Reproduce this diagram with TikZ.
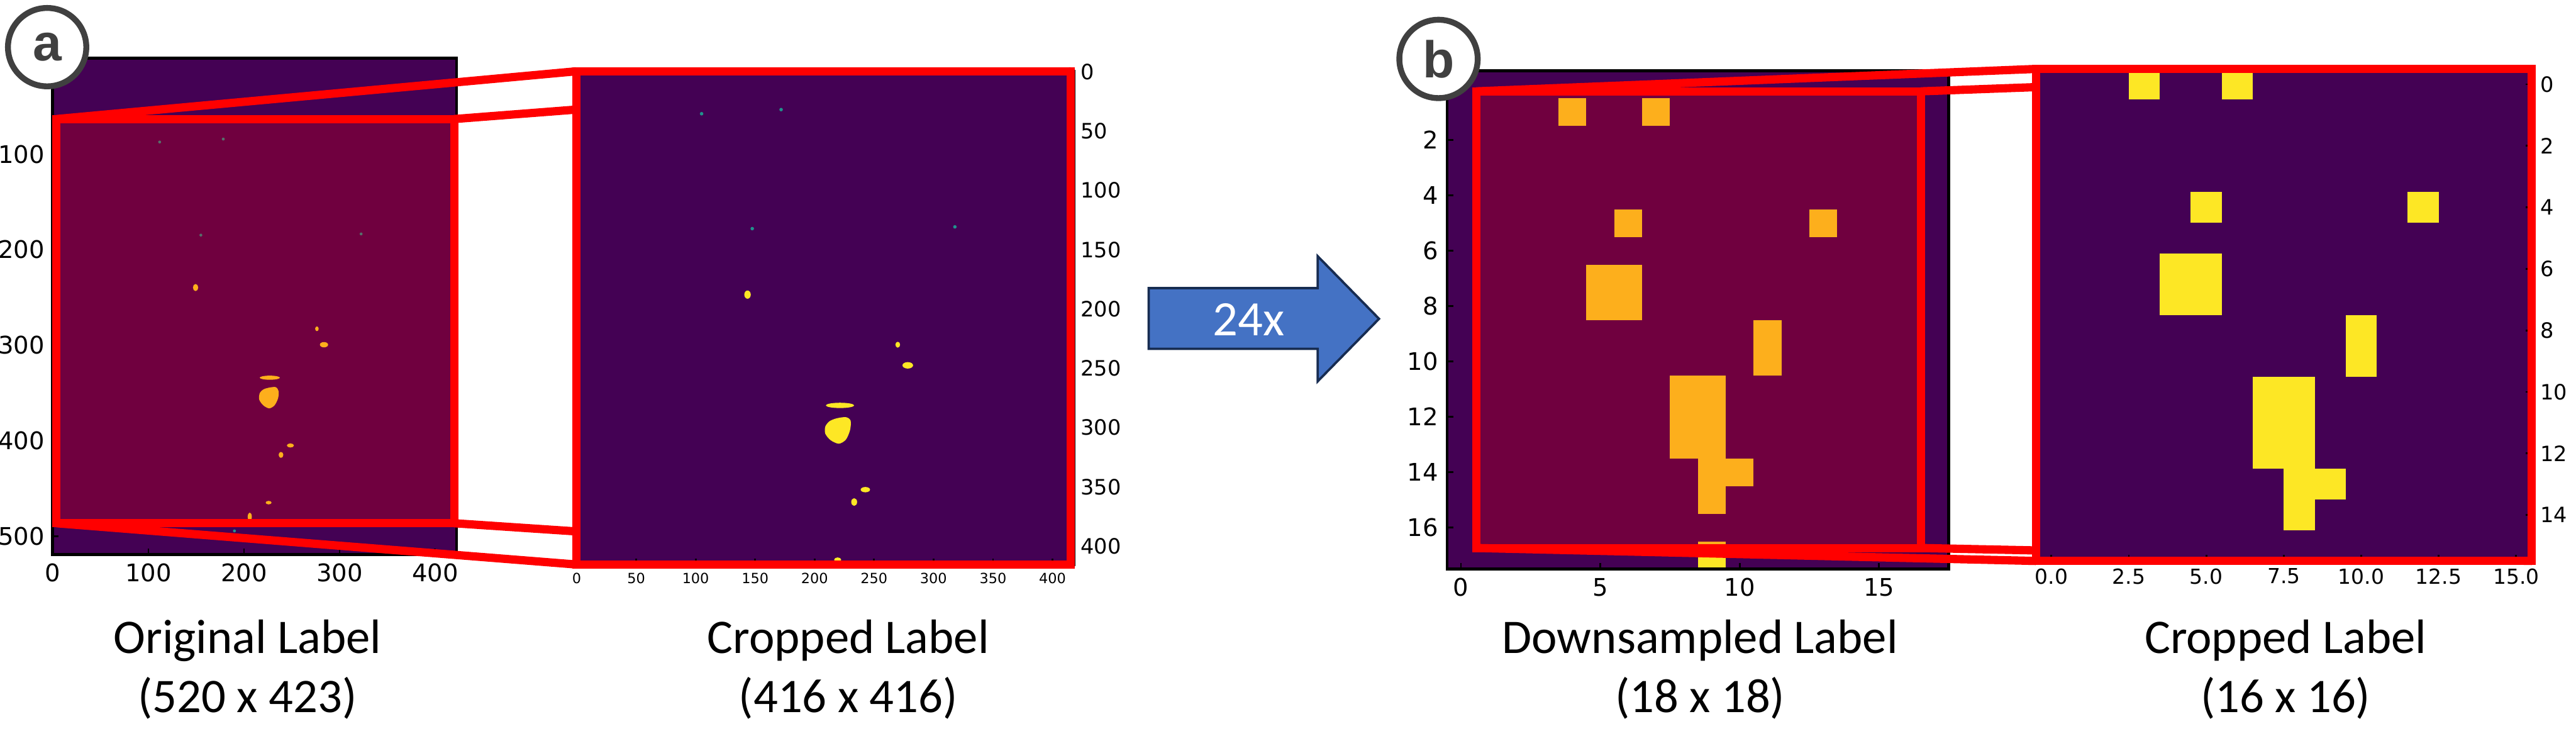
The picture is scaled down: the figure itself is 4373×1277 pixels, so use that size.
\documentclass[tikz,border=0pt]{standalone}
\usepackage{fontspec}
\setmainfont{Carlito}
\newfontfamily\tickfont{DejaVu Sans}
\newfontfamily\badgefont{Liberation Sans}
\definecolor{Ink}{HTML}{000000}
\definecolor{ViriLow}{HTML}{440154}
\definecolor{ViriMid}{HTML}{21918C}
\definecolor{ViriHigh}{HTML}{FDE725}
\definecolor{CropRed}{HTML}{FF0000}
\definecolor{Badge}{HTML}{404040}
\definecolor{ArrowBlue}{HTML}{4472C4}
\definecolor{ArrowEdge}{HTML}{172C51}

\begin{document}
\begin{tikzpicture}[
  x=0.1mm, y=-0.1mm,
  image/.style={fill=ViriLow},
  hit/.style={fill=ViriHigh},
  speck/.style={fill=ViriMid},
  shade/.style={fill=CropRed, fill opacity=0.24},
  axes/.style={draw=Ink, line width=0.5mm},
  tick/.style={draw=Ink, line width=0.3mm},
  crop/.style={draw=CropRed, line width=1.4mm},
  zoomline/.style={draw=CropRed, line width=1.4mm},
  badge/.style={circle, draw=Badge, line width=1mm, fill=white, minimum size=13.3mm, inner sep=0pt, text=Badge, font=\badgefont\bfseries\fontsize{25}{25}\selectfont},
  caption/.style={align=center, font=\fontsize{23.3}{28.5}\selectfont},
  bignum/.style={inner sep=0pt, font=\tickfont\fontsize{11.7}{12}\selectfont},
  midnum/.style={inner sep=0pt, font=\tickfont\fontsize{10.2}{11}\selectfont},
  smallnum/.style={inner sep=0pt, font=\tickfont\fontsize{6.8}{7}\selectfont}
]
\path[use as bounding box, fill=white] (0,0) rectangle (4373,1277);

\fill[image] (89,99) rectangle (775,941);
\foreach \px/\py in {271/241, 379/236, 341/399, 613/397, 398/901}
  \fill[speck] (\px,\py) circle[radius=2.5];
\fill[hit] (332,488) ellipse[x radius=4.5, y radius=6];
\fill[hit] (538,558) ellipse[x radius=3, y radius=4];
\fill[hit] (550,585) ellipse[x radius=7, y radius=4.5];
\fill[hit] (458,641) ellipse[x radius=17, y radius=3.5];
\fill[hit] plot[smooth cycle] coordinates {(456,658) (468,657) (473,664) (472,676) (466,688) (457,693) (447,688) (440,678) (441,667) (447,661)};
\fill[hit] (493,756) ellipse[x radius=6, y radius=3.5];
\fill[hit] (477,772) ellipse[x radius=4, y radius=5];
\fill[hit] (456,853) ellipse[x radius=5, y radius=3];
\fill[hit] (424,877) ellipse[x radius=3.5, y radius=7];
\coordinate (a-nw) at (96,202);
\coordinate (a-ne) at (771,202);
\coordinate (a-sw) at (96,888);
\coordinate (a-se) at (771,888);
\fill[shade] (a-nw) rectangle (a-se);
\draw[axes] (89,99) rectangle (775,941);
\foreach \val in {100,200,...,400}
  \draw[tick] ({89+(\val+0.5)*1.622},941) -- ++(0,-10);
\foreach \val in {100,200,...,500}
  \draw[tick] (89,{99+(\val+0.5)*1.62}) -- ++(10,0);
\draw[crop] (a-nw) rectangle (a-se);

\coordinate (c-nw) at (978,121);
\coordinate (c-ne) at (1818,121);
\coordinate (c-sw) at (978,958);
\coordinate (c-se) at (1818,958);
\draw[zoomline] (a-nw) -- (c-nw);
\draw[zoomline] (a-ne) -- (c-ne);
\draw[zoomline] (a-sw) -- (c-sw);
\draw[zoomline] (a-se) -- (c-se);
\fill[image] (c-nw) rectangle (c-se);
\foreach \px/\py in {1191/193, 1326/186, 1277/388, 1621/385}
  \fill[speck] (\px,\py) circle[radius=3];
\fill[hit] (1269,500) ellipse[x radius=5.5, y radius=7];
\fill[hit] (1524,585) ellipse[x radius=4, y radius=5];
\fill[hit] (1541,620) ellipse[x radius=9, y radius=5.5];
\fill[hit] (1426,688) ellipse[x radius=24, y radius=4.5];
\fill[hit] plot[smooth cycle] coordinates {(1420,710) (1436,708) (1444,714) (1443,730) (1436,746) (1424,753) (1410,747) (1401,736) (1401,724) (1408,715)};
\fill[hit] (1469,831) ellipse[x radius=8, y radius=4.5];
\fill[hit] (1450,852) ellipse[x radius=5, y radius=6.5];
\fill[hit] (1422,950) ellipse[x radius=6, y radius=4];
\draw[axes] (978,121) rectangle (1823,958);
\foreach \val in {0,50,...,400}
  \draw[tick] ({978+(\val+0.5)*2.019},958) -- ++(0,-10);
\foreach \val in {0,50,...,400}
  \draw[tick] (1823,{121+(\val+0.5)*2.012}) -- ++(-10,0);
\draw[crop] (c-nw) rectangle (c-se);

\foreach \val in {100,200,...,500}
  \node[bignum, anchor=east] (ay\val) at (76,{99+(\val+0.5)*1.62}) {\val};
\foreach \val in {0,100,...,400}
  \node[bignum] (ax\val) at ({89+(\val+0.5)*1.622},972) {\val};
\foreach \val in {0,50,...,400}
  \node[midnum, anchor=west] (cy\val) at (1834,{121+(\val+0.5)*2.012}) {\val};
\foreach \val in {0,50,...,400}
  \node[smallnum] (cx\val) at ({978+(\val+0.5)*2.019},982) {\val};

\draw[draw=ArrowEdge, fill=ArrowBlue, line width=0.4mm] (1950,489) -- (2237,489) -- (2237,435) -- (2341,541) -- (2237,647) -- (2237,592) -- (1950,592) -- cycle;
\node[text=white, font=\fontsize{23.9}{24}\selectfont] (factor) at (2120,542) {24x};

\fill[image] (2456.5,120) rectangle (3308,966);
\foreach \row/\col in {1/4, 1/7, 5/6, 5/13, 7/5, 7/6, 8/5, 8/6, 9/11, 10/11, 11/8, 11/9, 12/8, 12/9, 13/8, 13/9, 14/9, 14/10, 15/9, 17/9}
  \fill[hit] ({2456.5+47.3*\col},{120+47*\row}) rectangle ++(47.3,47);
\coordinate (b-nw) at (2506,155);
\coordinate (b-ne) at (3261,155);
\coordinate (b-sw) at (2506,930);
\coordinate (b-se) at (3261,930);
\fill[shade] (b-nw) rectangle (b-se);
\draw[axes] (2456.5,120) rectangle (3308,966);
\foreach \val in {0,5,10,15}
  \draw[tick] ({2456.5+(\val+0.5)*47.3},966) -- ++(0,-11);
\foreach \val in {2,4,...,16}
  \draw[tick] (2456.5,{120+(\val+0.5)*47}) -- ++(11,0);
\draw[crop] (b-nw) rectangle (b-se);

\coordinate (d-nw) at (3456,117);
\coordinate (d-ne) at (4298,117);
\coordinate (d-sw) at (3456,952);
\coordinate (d-se) at (4298,952);
\draw[zoomline] (b-nw) -- (d-nw);
\draw[zoomline] (b-ne) -- (d-ne);
\draw[zoomline] (b-sw) -- (d-sw);
\draw[zoomline] (b-se) -- (d-se);
\fill[image] (d-nw) rectangle (d-se);
\foreach \row/\col in {0/3, 0/6, 4/5, 4/12, 6/4, 6/5, 7/4, 7/5, 8/10, 9/10, 10/7, 10/8, 11/7, 11/8, 12/7, 12/8, 13/8, 13/9, 14/8}
  \fill[hit] ({3456+52.6*\col},{117+52.2*\row}) rectangle ++(52.6,52.2);
\draw[axes] (d-nw) rectangle (d-se);
\foreach \val in {0,2.5,...,15}
  \draw[tick] ({3456+(\val+0.5)*52.6},952) -- ++(0,-10);
\foreach \val in {0,2,...,14}
  \draw[tick] (4298,{117+(\val+0.5)*52.2}) -- ++(-10,0);
\draw[crop] (d-nw) rectangle (d-se);

\foreach \val in {2,4,...,16}
  \node[bignum, anchor=east] (by\val) at (2442,{120+(\val+0.5)*47}) {\val};
\foreach \val in {0,5,10,15}
  \node[bignum] (bx\val) at ({2456.5+(\val+0.5)*47.3},997) {\val};
\foreach \val in {0,2,...,14}
  \node[midnum, anchor=west] (dy\val) at (4312,{117+(\val+0.5)*52.2}) {\val};
\foreach \val/\txt [count=\k] in {0/0.0, 2.5/2.5, 5/5.0, 7.5/7.5, 10/10.0, 12.5/12.5, 15/15.0}
  \node[inner sep=0pt, font=\tickfont\fontsize{10}{11}\selectfont] (dx\k) at ({3456+(\val+0.5)*52.6},978) {\txt};

\node[caption] (capA) at (420,1136) {Original Label\\(520 x 423)};
\node[caption] (capC) at (1440,1136) {Cropped Label\\(416 x 416)};
\node[caption] (capB) at (2886,1136) {Downsampled Label\\(18 x 18)};
\node[caption] (capD) at (3880,1136) {Cropped Label\\(16 x 16)};

\node[badge] (tagA) at (80,80) {a};
\node[badge] (tagB) at (2442,100) {b};
\end{tikzpicture}
\end{document}
